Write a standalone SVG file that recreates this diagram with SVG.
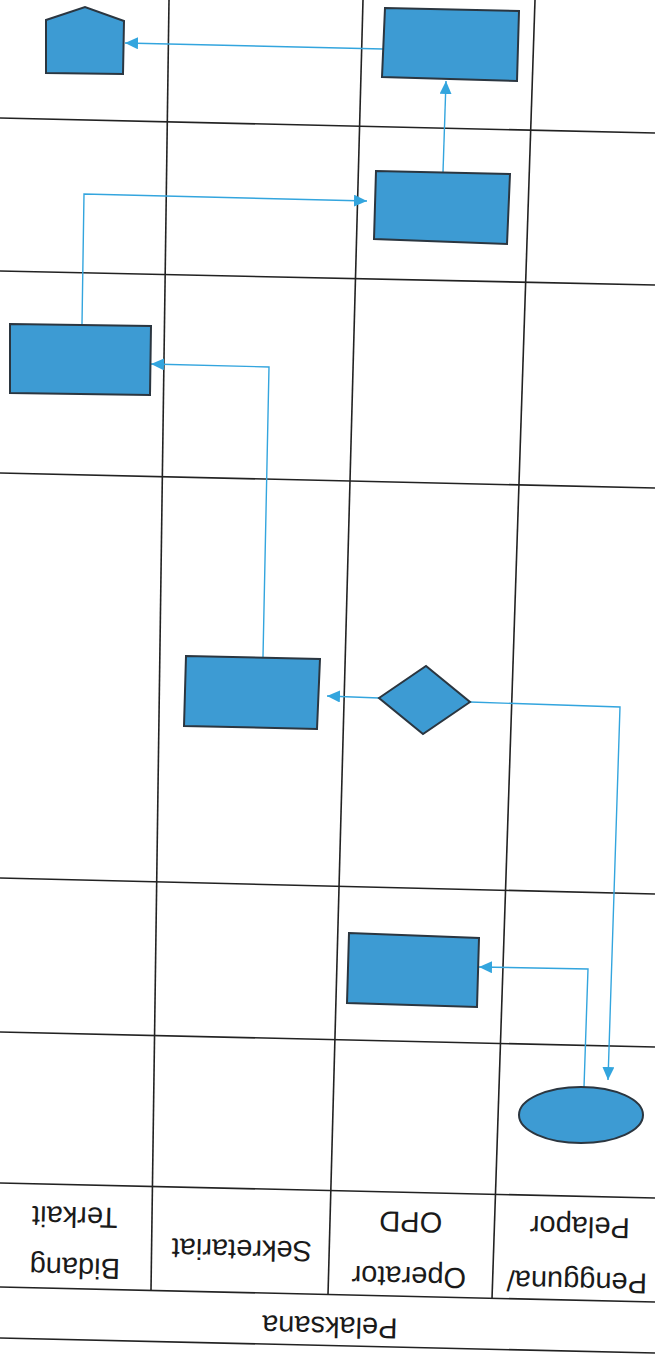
<svg xmlns="http://www.w3.org/2000/svg" width="655" height="1357" viewBox="0 0 655 1357">
<style>
.grid{stroke:#222;stroke-width:1.6;fill:none}
.node{fill:#3d9bd3;stroke:#2b3640;stroke-width:2}
.conn{stroke:#33a5de;stroke-width:1.4;fill:none}
.lbl{font-family:"Liberation Sans",Arial,sans-serif;font-size:29px;fill:#1a1a1a;text-anchor:middle}
</style>
<defs>
<marker id="arr" markerUnits="userSpaceOnUse" markerWidth="14" markerHeight="14" refX="13" refY="6" orient="auto">
<path d="M0,0 L13,6 L0,12 z" fill="#33a5de"/>
</marker>
</defs>
<rect width="655" height="1357" fill="#ffffff"/>
<g id="lanes" class="grid">
<line x1="169" y1="0" x2="151" y2="1290"/>
<line x1="363" y1="0" x2="328" y2="1295"/>
<line x1="535" y1="0" x2="492" y2="1299"/>
<line x1="0" y1="118" x2="655" y2="133"/>
<line x1="0" y1="271" x2="655" y2="285"/>
<line x1="0" y1="473" x2="655" y2="488"/>
<line x1="0" y1="878" x2="655" y2="894"/>
<line x1="0" y1="1032" x2="655" y2="1047"/>
<line x1="0" y1="1183" x2="655" y2="1198"/>
<line x1="0" y1="1287" x2="655" y2="1302"/>
<line x1="0" y1="1338" x2="655" y2="1353"/>
</g>
<g id="header">
<text class="lbl" transform="translate(75,1258) rotate(181.3)">Bidang</text>
<text class="lbl" transform="translate(75,1207) rotate(181.3)">Terkait</text>
<text class="lbl" transform="translate(242,1240) rotate(181.3)">Sekretariat</text>
<text class="lbl" transform="translate(409,1267) rotate(181.3)">Operator</text>
<text class="lbl" transform="translate(411,1212) rotate(181.3)">OPD</text>
<text class="lbl" transform="translate(577,1272) rotate(181.3)">Pengguna/</text>
<text class="lbl" transform="translate(580,1217) rotate(181.3)">Pelapor</text>
<text class="lbl" transform="translate(330,1317) rotate(181.3)">Pelaksana</text>
</g>
<g id="connectors" class="conn">
<polyline points="584,1087 588,969 479,967" marker-end="url(#arr)"/>
<polyline points="470,702 620,707 608,1080" marker-end="url(#arr)"/>
<polyline points="379,698 327,696" marker-end="url(#arr)"/>
<polyline points="263,657 269,367 151,364" marker-end="url(#arr)"/>
<polyline points="82,324 84,194 367,201" marker-end="url(#arr)"/>
<polyline points="443,172 446,81" marker-end="url(#arr)"/>
<polyline points="383,49 125,43" marker-end="url(#arr)"/>
</g>
<g id="start"><ellipse class="node" cx="581" cy="1115" rx="62" ry="28"/></g>
<g id="operator-process"><polygon class="node" points="349,933 479,938 477,1007 347,1003"/></g>
<g id="decision"><polygon class="node" points="379,698 426,666 470,702 423,734"/></g>
<g id="sekretariat-process"><polygon class="node" points="186,656 320,659 317,729 184,726"/></g>
<g id="bidang-process"><polygon class="node" points="10,324 151,326 150,395 10,393"/></g>
<g id="operator-process-2"><polygon class="node" points="376,171 510,174 507,244 374,239"/></g>
<g id="operator-process-3"><polygon class="node" points="385,8 519,11 517,81 382,77"/></g>
<g id="end"><polygon class="node" points="46,20 85,7 124,21 123,74 46,73"/></g>
</svg>
